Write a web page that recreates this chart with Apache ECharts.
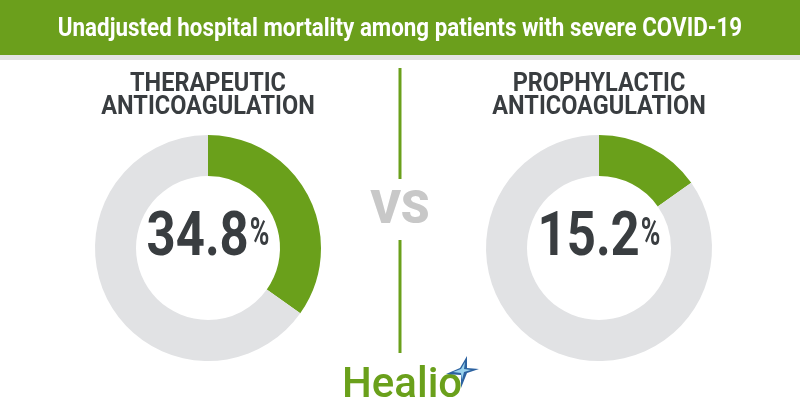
<!DOCTYPE html>
<html>
<head>
<meta charset="utf-8">
<script src="https://cdn.jsdelivr.net/npm/echarts@6/dist/echarts.min.js"></script>
<style>
html,body{margin:0;padding:0;background:#fff;}
#chart{width:800px;height:420px;}
</style>
</head>
<body>
<div id="chart"></div>
<script>
const titleText = 'Unadjusted hospital mortality among patients with severe COVID-19';
const groupLines1 = ['THERAPEUTIC', 'PROPHYLACTIC'];
const groupLines2 = ['ANTICOAGULATION', 'ANTICOAGULATION'];
const mortality = [34.8, 15.2];
const remainder = [65.2, 84.8];
const centersX = [208, 599];

const GREEN = '#6aa01b';
const GRAY = '#e1e2e4';
const DARK = '#393d40';

const chart = echarts.init(document.getElementById('chart'), null, {renderer: 'canvas'});

const series = mortality.map((v, i) => ({
  type: 'pie',
  silent: true,
  center: [centersX[i], 248],
  radius: [72, 113],
  startAngle: 90,
  clockwise: true,
  label: {show: false},
  labelLine: {show: false},
  emphasis: {disabled: true},
  animation: false,
  data: [
    {value: v, name: 'mortality', itemStyle: {color: GREEN}},
    {value: remainder[i], name: 'other', itemStyle: {color: GRAY}}
  ]
}));

const graphic = [
  {type: 'rect', shape: {x: 0, y: 0, width: 800, height: 55}, style: {fill: '#6b9f1c'}, silent: true},
  {type: 'rect', shape: {x: 0, y: 55, width: 800, height: 5}, style: {fill: '#e4e4e4'}, silent: true},
  {type: 'text', x: 400, y: 29.5, scaleX: 0.86,
    style: {text: titleText, fill: '#ffffff', font: 'bold 26px Roboto', textAlign: 'center', textVerticalAlign: 'middle'}},
  // divider
  {type: 'rect', shape: {x: 398.5, y: 68, width: 3, height: 111}, style: {fill: GREEN}},
  {type: 'rect', shape: {x: 398.5, y: 240, width: 3, height: 113}, style: {fill: GREEN}},
  {type: 'text', x: 400, y: 211,
    style: {text: 'VS', fill: '#c8c8c8', font: '900 46px Roboto', textAlign: 'center', textVerticalAlign: 'middle'}},
  // Healio logo
  {type: 'text', x: 342, y: 386,
    style: {text: 'Healio', fill: GREEN, font: '500 42px Roboto', textAlign: 'left', textVerticalAlign: 'middle'}},
  {type: 'polygon', shape: {points: [[467,356],[467,368],[479,369],[467,373],[461,388],[461,375],[446,374],[460,368]]}, style: {fill: '#2c62a0'}},
  {type: 'polygon', shape: {points: [[465,362],[464,369],[471,370],[464,372],[462,380],[461,373],[453,372],[461,369]]}, style: {fill: '#9ad3ee'}}
];

const measureCtx = document.createElement('canvas').getContext('2d');
const NUM_FONT = 'bold 62px Roboto';
const PCT_FONT = 'bold 38px Roboto';
const NUM_SX = 0.82, PCT_SX = 0.7, GAP = 1;

mortality.forEach((v, i) => {
  const cx = centersX[i];
  const txt = v.toFixed(1);
  measureCtx.font = NUM_FONT;
  const nw = measureCtx.measureText(txt).width * NUM_SX;
  measureCtx.font = PCT_FONT;
  const pw = measureCtx.measureText('%').width * PCT_SX;
  const left = cx - (nw + GAP + pw) / 2;
  graphic.push({type: 'text', x: cx, y: 85, scaleX: 0.94,
    style: {text: groupLines1[i], fill: DARK, font: 'bold 25px Roboto', textAlign: 'center', textVerticalAlign: 'middle'}});
  graphic.push({type: 'text', x: cx, y: 108, scaleX: 0.94,
    style: {text: groupLines2[i], fill: DARK, font: 'bold 25px Roboto', textAlign: 'center', textVerticalAlign: 'middle'}});
  graphic.push({type: 'text', x: left, y: 270, scaleX: NUM_SX,
    style: {text: txt, fill: DARK, font: NUM_FONT, textAlign: 'left', textVerticalAlign: 'bottom'}});
  graphic.push({type: 'text', x: left + nw + GAP, y: 216, scaleX: PCT_SX,
    style: {text: '%', fill: DARK, font: PCT_FONT, textAlign: 'left', textVerticalAlign: 'top'}});
});

chart.setOption({
  animation: false,
  backgroundColor: '#ffffff',
  series: series,
  graphic: graphic
});
</script>
</body>
</html>
